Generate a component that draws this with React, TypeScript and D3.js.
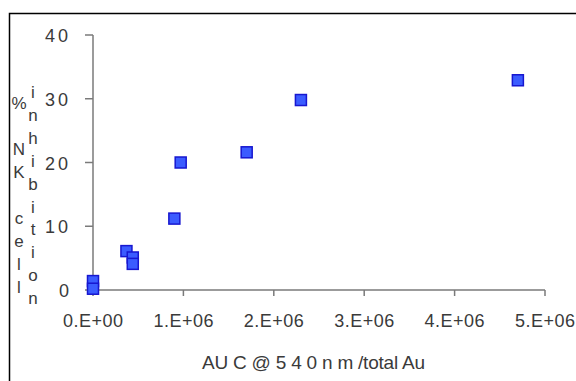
import * as d3 from 'd3';

const xValues = [0, 0, 0.37e6, 0.44e6, 0.44e6, 0.9e6, 0.97e6, 1.7e6, 2.3e6, 4.7e6];
const yValues = [1.4, 0.2, 6.1, 5.1, 4.1, 11.2, 20, 21.6, 29.8, 32.9];

const xTicks = [0, 1e6, 2e6, 3e6, 4e6, 5e6];
const xTickLabels = ['0.E+00', '1.E+06', '2.E+06', '3.E+06', '4.E+06', '5.E+06'];
const yTicks = [0, 10, 20, 30, 40];
const yTickLabels = ['0', '10', '20', '30', '40'];

const yTitleLeft = ['%', '', 'N', 'K', '', 'c', 'e', 'l', 'l'];
const yTitleRight = ['i', 'n', 'h', 'i', 'b', 'i', 't', 'i', 'o', 'n'];
const xTitle = 'AU C @ 5 4 0 n m /total Au';

const width = 576;
const height = 381;
const font = '"Liberation Sans Narrow", "Liberation Sans", Arial, sans-serif';
const axisColor = '#7a7a7a';
const textColor = '#3a3a3a';

export default function App() {
  const x = d3.scaleLinear().domain([0, 5e6]).range([93, 545]);
  const y = d3.scaleLinear().domain([0, 40]).range([290, 35]);
  const size = 11;

  const points = xValues.map((v, i) => ({ x: v, y: yValues[i] }));

  return (
    <svg
      width={width}
      height={height}
      style={{ position: 'absolute', left: 0, top: 0 }}
    >
      <rect x={0} y={0} width={width} height={height} fill="#fff" />
      <rect x={9.5} y={13.5} width={width} height={height} fill="none" stroke="#000" strokeWidth={1.5} />

      {/* axes */}
      <line x1={x(0)} x2={x(0)} y1={y(40)} y2={y(0)} stroke={axisColor} strokeWidth={1.5} />
      <line x1={x(0)} x2={x(5e6)} y1={y(0)} y2={y(0)} stroke={axisColor} strokeWidth={1.5} />

      {yTicks.map((t, i) => (
        <g key={'y' + t}>
          <line x1={x(0) - 8} x2={x(0)} y1={y(t)} y2={y(t)} stroke={axisColor} strokeWidth={1.5} />
          <text
            x={yTickLabels[i].length > 1 ? 45 : 59}
            y={y(t) + 7}
            fontFamily={font}
            fontSize={18}
            fill={textColor}
            textLength={yTickLabels[i].length > 1 ? 23 : 9}
            lengthAdjust="spacing"
          >
            {yTickLabels[i]}
          </text>
        </g>
      ))}

      {xTicks.map((t, i) => (
        <g key={'x' + t}>
          <line x1={x(t)} x2={x(t)} y1={y(0)} y2={y(0) + 6} stroke={axisColor} strokeWidth={1.5} />
          <text
            x={x(t) - 30}
            y={327}
            fontFamily={font}
            fontSize={18}
            fill={textColor}
            textLength={60}
            lengthAdjust="spacing"
          >
            {xTickLabels[i]}
          </text>
        </g>
      ))}

      {/* y axis title, stacked letters */}
      {yTitleLeft.map((c, i) => (
        <text key={'l' + i} x={19} y={103 + i * 23 + 6} textAnchor="middle" fontFamily={font} fontSize={17} fill={textColor}>
          {c}
        </text>
      ))}
      {yTitleRight.map((c, i) => (
        <text key={'r' + i} x={33} y={92 + i * 22.9 + 6} textAnchor="middle" fontFamily={font} fontSize={17} fill={textColor}>
          {c}
        </text>
      ))}

      <text
        x={202}
        y={369}
        fontFamily={font}
        fontSize={19}
        fill={textColor}
        textLength={223}
        lengthAdjust="spacing"
      >
        {xTitle}
      </text>

      {points.map((p, i) => (
        <rect
          key={i}
          x={x(p.x) - size / 2}
          y={y(p.y) - size / 2}
          width={size}
          height={size}
          fill="#3b5cff"
          stroke="#1717d0"
          strokeWidth={1.5}
        />
      ))}
    </svg>
  );
}
